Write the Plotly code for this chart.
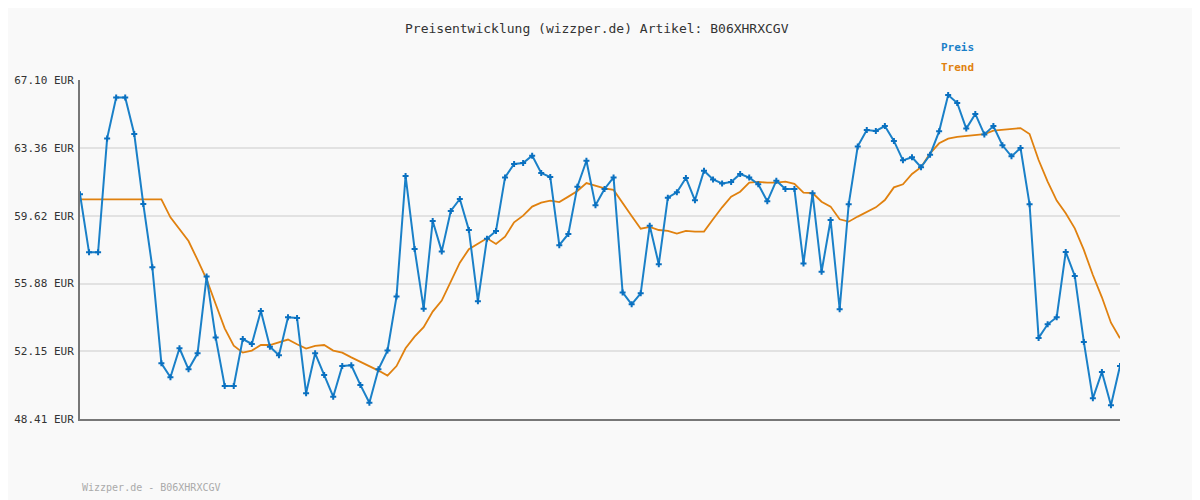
import plotly.graph_objects as go

preis = [60.80,57.60,57.60,63.88,66.13,66.13,64.12,60.26,56.77,51.48,50.71,52.31,51.15,52.03,56.26,52.91,50.23,50.23,52.82,52.55,54.37,52.40,51.92,54.02,53.98,49.83,52.03,50.84,49.64,51.33,51.37,50.29,49.31,51.15,52.18,55.16,61.81,57.78,54.49,59.33,
57.65,59.88,60.54,58.83,54.90,58.35,58.78,61.73,62.47,62.52,62.93,61.97,61.75,57.99,58.61,61.22,62.65,60.19,61.09,61.73,55.39,54.73,55.34,59.07,56.94,60.61,60.91,61.70,60.47,62.10,61.62,61.40,61.48,61.92,61.72,61.35,60.41,61.55,61.09,
61.09,56.99,60.85,56.53,59.38,54.46,60.25,63.44,64.34,64.29,64.56,63.74,62.67,62.84,62.29,62.98,64.27,66.27,65.83,64.42,65.23,64.10,64.56,63.50,62.89,63.35,60.25,52.88,53.63,54.02,57.62,56.30,52.66,49.55,51.00,49.17,51.33]

trend = [60.52]*10 + [59.53,58.89,58.22,57.18,56.11,54.75,53.41,52.45,52.07,52.18,52.49,52.49,52.62,52.79,52.53,52.29,52.44,52.49,52.18,52.07,51.81,51.57,51.33,51.08,50.80,51.33,52.31,52.95,53.47,54.33,
54.94,55.98,57.03,57.77,58.06,58.37,58.06,58.46,59.25,59.62,60.12,60.34,60.45,60.37,60.67,60.98,61.42,61.26,61.13,61.04,60.30,59.60,58.90,59.00,58.83,58.78,58.63,58.78,58.74,58.74,59.42,60.08,60.67,60.94,61.44,61.48,61.44,61.44,61.50,
61.37,60.89,60.87,60.39,60.12,59.42,59.29,59.57,59.84,60.08,60.48,61.18,61.35,61.92,62.29,63.06,63.61,63.87,63.96,64.01,64.07,64.12,64.31,64.36,64.42,64.45,64.12,62.69,61.50,60.45,59.75,58.92,57.73,56.35,55.12,53.72,52.86]

tick_vals = [48.41, 52.15, 55.88, 59.62, 63.36, 67.10]
tick_text = [f"{v:.2f} EUR" for v in tick_vals]
x = list(range(len(preis)))

mono = "DejaVu Sans Mono"
OFFX, OFFY = 8, 8
W, H = 1200, 500
L, R, T, B = 80 - OFFX, 80 + OFFX, 80 - OFFY, 81 + OFFY

fig = go.Figure()
fig.add_trace(go.Scatter(x=x, y=trend, mode="lines", line=dict(color="#e0810f", width=1.8), hoverinfo="skip"))
fig.add_trace(go.Scatter(x=x, y=preis, mode="lines+markers", line=dict(color="#1a80c8", width=2),
                         marker=dict(symbol="cross", size=5, color="#0a70c0")))

def px(xp, yp):
    xp -= OFFX; yp -= OFFY
    return (xp - L) / (W - L - R), 1 - (yp - T) / (H - T - B)

anns = []
for text, xp, yp, col, sz in [("Preisentwicklung (wizzper.de) Artikel: B06XHRXCGV", 403, 28, "#333", 13),
                              ("<b>Preis</b>", 939, 47, "#1a80c8", 11), ("<b>Trend</b>", 939, 67, "#e0810f", 11),
                              ("Wizzper.de - B06XHRXCGV", 80, 487, "#aaa", 10)]:
    xx, yy = px(xp, yp)
    anns.append(dict(text=text, x=xx, y=yy, xref="paper", yref="paper", xanchor="left", yanchor="middle",
                     showarrow=False, font=dict(family=mono, size=sz, color=col)))

fig.update_layout(
    width=W, height=H, showlegend=False,
    paper_bgcolor="#f9f9f9", plot_bgcolor="#f9f9f9",
    margin=dict(l=L, r=R, t=T, b=B, autoexpand=False),
    font=dict(family=mono, size=12, color="#333"),
    xaxis=dict(range=[0, len(preis)-1], showgrid=False, showticklabels=False, zeroline=False, automargin=False,
               showline=True, linecolor="#777", linewidth=2, ticks=""),
    yaxis=dict(range=[48.41, 67.10], tickvals=tick_vals, ticktext=tick_text, showgrid=True, automargin=False,
               gridcolor="#e2e2e2", gridwidth=2, zeroline=False, showline=True, linecolor="#777", linewidth=2,
               ticks="", ticklabelstandoff=2, tickfont=dict(family=mono, size=11, color="#333")),
    annotations=anns,
)
fig.write_html("out.html")
